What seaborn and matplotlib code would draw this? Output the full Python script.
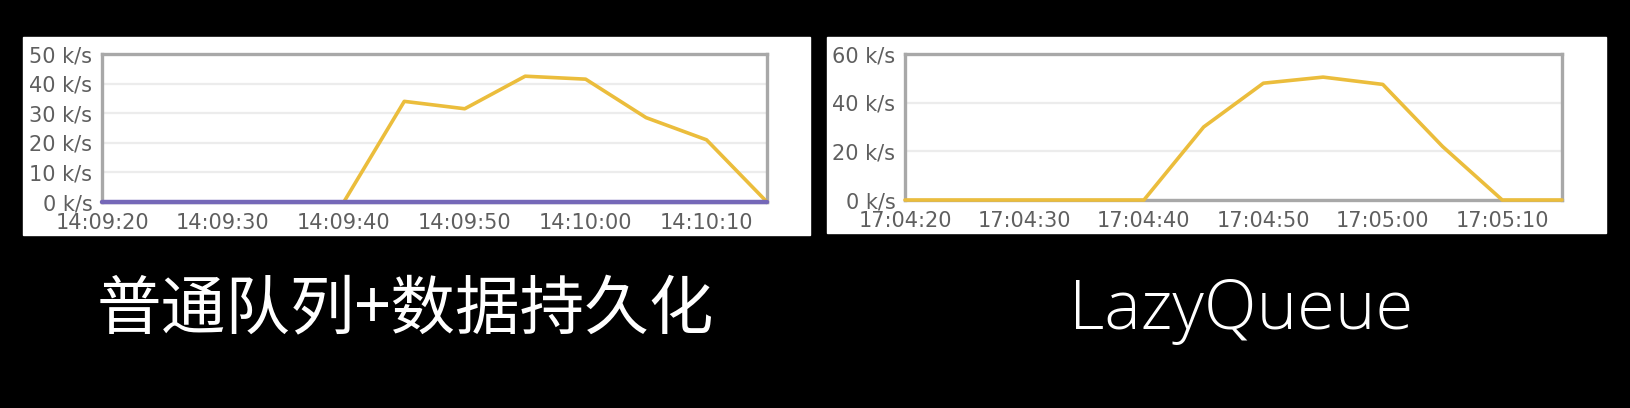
import pandas as pd
import matplotlib
matplotlib.use('Agg')
import matplotlib.pyplot as plt
import matplotlib.dates as mdates
from matplotlib.patches import Rectangle
from matplotlib.ticker import FuncFormatter, MultipleLocator
import seaborn as sns

# Datos (intervalos de 5 s)
left_times = ['14:09:20', '14:09:25', '14:09:30', '14:09:35', '14:09:40', '14:09:45',
              '14:09:50', '14:09:55', '14:10:00', '14:10:05', '14:10:10', '14:10:15']
left_publish = [0, 0, 0, 0, 0, 34, 31.5, 42.5, 41.5, 28.5, 21, 0]
left_other = [0, 0, 0, 0, 0, 0, 0, 0, 0, 0, 0, 0]

right_times = ['17:04:20', '17:04:25', '17:04:30', '17:04:35', '17:04:40', '17:04:45',
               '17:04:50', '17:04:55', '17:05:00', '17:05:05', '17:05:10', '17:05:15']
right_publish = [0, 0, 0, 0, 0, 30, 48, 50.5, 47.5, 22, 0, 0]

captions = ['普通队列+数据持久化', 'LazyQueue']

YELLOW = '#ebbd3c'
PURPLE = '#7568b8'
FRAME = '#a8a8a8'
GRID = '#ececec'
TICK = '#5f5f5f'

sns.set_style('white')
plt.rcParams['font.family'] = ['DejaVu Sans']

fig = plt.figure(figsize=(16.3, 4.08), dpi=100, facecolor='black')

# Paneles blancos detrás de los gráficos
fig.patches.append(Rectangle((23 / 1630, 173 / 408), 787 / 1630, 198 / 408,
                             transform=fig.transFigure, facecolor='white', zorder=-5))
fig.patches.append(Rectangle((827 / 1630, 175 / 408), 779 / 1630, 196 / 408,
                             transform=fig.transFigure, facecolor='white', zorder=-5))


def to_dt(times):
    return pd.to_datetime(['2020-01-01 ' + t for t in times])


def style_axis(ax, times, ymax, ystep):
    dt = to_dt(times)
    ax.set_xlim(dt[0], dt[-1])
    ax.set_ylim(0, ymax)
    ax.yaxis.set_major_locator(MultipleLocator(ystep))
    ax.yaxis.set_major_formatter(FuncFormatter(lambda v, p: f'{int(v)} k/s'))
    ax.xaxis.set_major_locator(mdates.SecondLocator(bysecond=[0, 10, 20, 30, 40, 50]))
    ax.xaxis.set_major_formatter(mdates.DateFormatter('%H:%M:%S'))
    ax.tick_params(axis='both', length=0, labelsize=15, labelcolor=TICK)
    ax.tick_params(axis='y', pad=7)
    ax.tick_params(axis='x', pad=8)
    ax.grid(axis='y', color=GRID, lw=1.6)
    ax.grid(axis='x', visible=False)
    for s in ax.spines.values():
        s.set_visible(True)
        s.set_color(FRAME)
        s.set_linewidth(2.4)
    ax.set_xlabel('')
    ax.set_ylabel('')
    ax.set_facecolor('white')


# Panel izquierdo: cola normal + persistencia
ax1 = fig.add_axes([102 / 1630, 206 / 408, 665 / 1630, 148 / 408])
df_left = pd.DataFrame({'time': to_dt(left_times), 'publish': left_publish, 'other': left_other})
sns.lineplot(data=df_left, x='time', y='publish', ax=ax1, color=YELLOW, lw=2.6)
sns.lineplot(data=df_left, x='time', y='other', ax=ax1, color=PURPLE, lw=3.2)
style_axis(ax1, left_times, 50, 10)
for ln in ax1.lines:
    ln.set_clip_on(False)
    ln.set_zorder(5)

# Panel derecho: LazyQueue
ax2 = fig.add_axes([905 / 1630, 208 / 408, 657 / 1630, 146 / 408])
df_right = pd.DataFrame({'time': to_dt(right_times), 'publish': right_publish})
sns.lineplot(data=df_right, x='time', y='publish', ax=ax2, color=YELLOW, lw=2.6)
style_axis(ax2, right_times, 60, 20)
for ln in ax2.lines:
    ln.set_clip_on(False)
    ln.set_zorder(5)

# Títulos inferiores
fig.text(405 / 1630, 97 / 408, captions[0], color='white', fontsize=46.5,
         ha='center', va='center', family=['Noto Sans CJK SC', 'DejaVu Sans'], weight='light')
fig.text(1241 / 1630, 97 / 408, captions[1], color='white', fontsize=49.5,
         ha='center', va='center', family=['Open Sans', 'DejaVu Sans'], weight='light')

fig.savefig('out.png', dpi=100, facecolor='black')
